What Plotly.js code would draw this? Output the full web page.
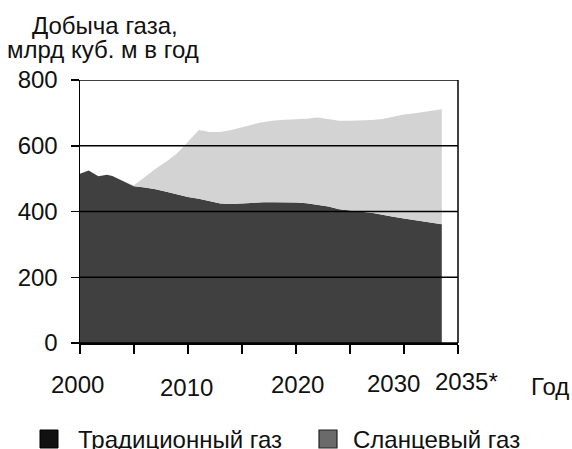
<!DOCTYPE html>
<html>
<head>
<meta charset="utf-8">
<script src="https://cdn.plot.ly/plotly-3.0.1.min.js"></script>
<style>html,body{margin:0;padding:0;background:#fff;}#chart{width:572px;height:449px;}</style>
</head>
<body>
<div id="chart"></div>
<script>
// Data
var years = [2000, 2000.8, 2001.7, 2002.5, 2003, 2004.5, 2005, 2006, 2007, 2008, 2009, 2010, 2011, 2012, 2013, 2014, 2015, 2016, 2017, 2018, 2019, 2020, 2021, 2022, 2023, 2024, 2025, 2026, 2027, 2028, 2029, 2030, 2031, 2032, 2033, 2033.5];
var traditional = [515, 525, 507, 512, 508, 485, 477, 473, 468, 460, 452, 444, 439, 432, 424, 423, 425, 427, 428, 428, 428, 427, 425, 421, 415, 407, 402, 399, 396, 389, 384, 379, 374, 369, 364, 361];
var shale = [0, 0, 0, 0, 0, 0, 3, 32, 62, 92, 125, 168, 209, 210, 218, 225, 232, 238, 244, 249, 251, 253, 257, 265, 265, 269, 274, 277, 282, 292, 304, 316, 325, 334, 344, 350];
var seriesNames = ["Традиционный газ", "Сланцевый газ"];
var yTicks = [0, 200, 400, 600, 800];
var xTicks = [2000, 2005, 2010, 2015, 2020, 2025, 2030, 2035];
var xLabels = ["2000", "2010", "2020", "2030", "2035*", "Год"];
var titleLines = ["Добыча газа,", "млрд куб. м в год"];

// layout helpers (pixel -> paper)
var L = 80, R = 458, T = 80, B = 343;
function px(x){ return (x - L) / (R - L); }
function py(y){ return (B - y) / (B - T); }

var FONT = "Liberation Sans, Arial, Helvetica, sans-serif";
var fs = 24;

var traces = [
  {x: years, y: traditional, name: seriesNames[0], type: 'scatter', mode: 'lines',
   stackgroup: 'one', line: {width: 0, color: '#404040'}, fillcolor: '#404040', showlegend: false},
  {x: years, y: shale, name: seriesNames[1], type: 'scatter', mode: 'lines',
   stackgroup: 'one', line: {width: 0, color: '#d3d3d3'}, fillcolor: '#d3d3d3', showlegend: false}
];

var shapes = [];
yTicks.forEach(function(v){
  shapes.push({type: 'line', xref: 'paper', yref: 'y', x0: 0, x1: 1, y0: v, y1: v,
    line: {color: '#000', width: 1.5}, layer: 'above'});
});
shapes.push({type: 'line', xref: 'paper', yref: 'paper', x0: 1, x1: 1, y0: 0, y1: 1,
  line: {color: '#000', width: 1.5}, layer: 'above'});
// legend squares
shapes.push({type: 'rect', xref: 'paper', yref: 'paper', x0: px(40), x1: px(58), y0: py(430), y1: py(448),
  fillcolor: '#111', line: {color: '#000', width: 1}});
shapes.push({type: 'rect', xref: 'paper', yref: 'paper', x0: px(319), x1: px(337), y0: py(430), y1: py(448),
  fillcolor: '#6a6a6a', line: {color: '#222', width: 1.2}});

var labelPos = [[77.5, 384], [186.5, 387], [297, 384], [393.5, 383.5], [466.5, 381.5], [550, 386]];
var annotations = [];
xLabels.forEach(function(t, i){
  annotations.push({text: t, xref: 'paper', yref: 'paper', x: px(labelPos[i][0]), y: py(labelPos[i][1]),
    xanchor: 'center', yanchor: 'middle', showarrow: false, font: {family: FONT, size: fs, color: '#111'}});
});
annotations.push({text: titleLines[0], xref: 'paper', yref: 'paper', x: px(30), y: py(25),
  xanchor: 'left', yanchor: 'middle', showarrow: false, font: {family: FONT, size: fs, color: '#111'}});
annotations.push({text: titleLines[1], xref: 'paper', yref: 'paper', x: px(5), y: py(50),
  xanchor: 'left', yanchor: 'middle', showarrow: false, font: {family: FONT, size: fs, color: '#111'}});
annotations.push({text: seriesNames[0], xref: 'paper', yref: 'paper', x: px(76), y: py(439),
  xanchor: 'left', yanchor: 'middle', showarrow: false, font: {family: FONT, size: fs, color: '#111'}});
annotations.push({text: seriesNames[1], xref: 'paper', yref: 'paper', x: px(351), y: py(439),
  xanchor: 'left', yanchor: 'middle', showarrow: false, font: {family: FONT, size: fs, color: '#111'}});

var layout = {
  width: 572, height: 449,
  margin: {l: L, r: 572 - R, t: T, b: 449 - B},
  paper_bgcolor: '#fff', plot_bgcolor: '#fff',
  showlegend: false,
  font: {family: FONT, size: fs, color: '#111'},
  xaxis: {range: [2000, 2035], tickvals: xTicks, showticklabels: false, ticks: 'outside', ticklen: 9,
    tickwidth: 1.5, tickcolor: '#000', showline: true, linecolor: '#000', linewidth: 1.5,
    showgrid: false, zeroline: false, fixedrange: true, layer: 'above traces'},
  yaxis: {range: [0, 800], tickvals: yTicks, ticks: 'outside', ticklen: 8, tickwidth: 1.5, tickcolor: '#000',
    showline: true, linecolor: '#000', linewidth: 1.5, showgrid: false, zeroline: false,
    tickfont: {family: FONT, size: fs, color: '#111'}, ticklabelstandoff: 8, fixedrange: true, layer: 'above traces'},
  shapes: shapes,
  annotations: annotations
};

Plotly.newPlot('chart', traces, layout, {staticPlot: true, displayModeBar: false});
</script>
</body>
</html>
